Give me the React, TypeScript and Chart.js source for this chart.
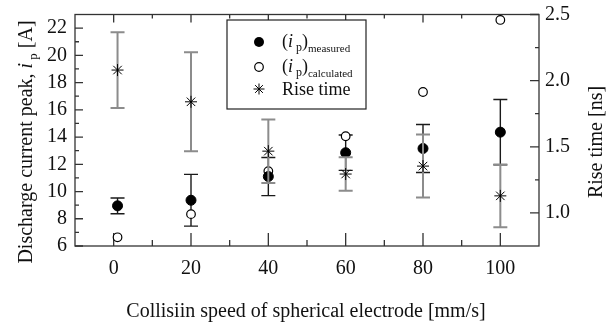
import React, { useEffect, useRef } from "react";
import { Chart, registerables } from "chart.js";
Chart.register(...registerables);

const speeds = [1, 20, 40, 60, 80, 100];
const measuredPeak = [8.95, 9.36, 11.1, 12.85, 13.16, 14.36];
const measuredErr = [0.58, 1.9, 1.4, 1.3, 1.76, 2.4];
const calculatedPeak = [6.64, 8.34, 11.5, 14.06, 17.31, 22.6];
const riseTime = [2.08, 1.84, 1.467, 1.294, 1.354, 1.129];
const riseErr = [0.286, 0.374, 0.24, 0.127, 0.238, 0.238];

const xTicks = [0, 20, 40, 60, 80, 100];
const xMinorTicks = [10, 30, 50, 70, 90];
const yTicks = [6, 8, 10, 12, 14, 16, 18, 20, 22];
const yMinorTicks = [7, 9, 11, 13, 15, 17, 19, 21];
const y2Ticks = [1.0, 1.5, 2.0, 2.5];
const y2MinorTicks = [1.25, 1.75, 2.25];

const FONT = '"Liberation Serif", "Times New Roman", serif';
const INK = "#111";
const GRAY = "#8c8c8c";

type Seg = { text: string; size: number; italic?: boolean; dy?: number };

function fontOf(s: Seg) {
  return `${s.italic ? "italic " : ""}${s.size}px ${FONT}`;
}

function drawRich(ctx: CanvasRenderingContext2D, segs: Seg[], x: number, y: number, align: "left" | "center") {
  let total = 0;
  segs.forEach((s) => {
    ctx.font = fontOf(s);
    total += ctx.measureText(s.text).width;
  });
  let cx = align === "center" ? x - total / 2 : x;
  ctx.textAlign = "left";
  ctx.textBaseline = "alphabetic";
  segs.forEach((s) => {
    ctx.font = fontOf(s);
    ctx.fillText(s.text, cx, y + (s.dy || 0));
    cx += ctx.measureText(s.text).width;
  });
}

function drawStar(ctx: CanvasRenderingContext2D, x: number, y: number, r: number) {
  ctx.beginPath();
  for (let k = 0; k < 4; k++) {
    const a = (k * Math.PI) / 4;
    ctx.moveTo(x - r * Math.cos(a), y - r * Math.sin(a));
    ctx.lineTo(x + r * Math.cos(a), y + r * Math.sin(a));
  }
  ctx.stroke();
}

function errorBars(chart: any, vals: number[], errs: number[], axis: string, color: string, width: number) {
  const ctx: CanvasRenderingContext2D = chart.ctx;
  const xs = chart.scales.x;
  const ys = chart.scales[axis];
  ctx.save();
  ctx.strokeStyle = color;
  ctx.lineWidth = width;
  const cap = 7;
  speeds.forEach((sp, i) => {
    const px = xs.getPixelForValue(sp);
    const top = ys.getPixelForValue(vals[i] + errs[i]);
    const bot = ys.getPixelForValue(vals[i] - errs[i]);
    ctx.beginPath();
    ctx.moveTo(px, top);
    ctx.lineTo(px, bot);
    ctx.moveTo(px - cap, top);
    ctx.lineTo(px + cap, top);
    ctx.moveTo(px - cap, bot);
    ctx.lineTo(px + cap, bot);
    ctx.stroke();
  });
  ctx.restore();
}

const decorPlugin = {
  id: "decor",
  beforeDatasetsDraw(chart: any) {
    const ctx: CanvasRenderingContext2D = chart.ctx;
    const { left, right, top, bottom } = chart.chartArea;
    const xs = chart.scales.x;
    const ys = chart.scales.y;
    const y2 = chart.scales.y2;
    ctx.save();
    ctx.strokeStyle = "#333";
    ctx.lineWidth = 1.3;
    ctx.strokeRect(left, top, right - left, bottom - top);
    ctx.beginPath();
    const vt = (vals: number[], len: number, bottomLen: number) => {
      vals.forEach((v) => {
        const px = xs.getPixelForValue(v);
        ctx.moveTo(px, bottom);
        ctx.lineTo(px, bottom - bottomLen);
        ctx.moveTo(px, top);
        ctx.lineTo(px, top + len);
      });
    };
    vt(xTicks, 8, 13);
    vt(xMinorTicks, 4, 6);
    yTicks.forEach((v) => {
      const py = ys.getPixelForValue(v);
      ctx.moveTo(left, py);
      ctx.lineTo(left + 8, py);
    });
    yMinorTicks.forEach((v) => {
      const py = ys.getPixelForValue(v);
      ctx.moveTo(left, py);
      ctx.lineTo(left + 4, py);
    });
    y2Ticks.forEach((v) => {
      const py = y2.getPixelForValue(v);
      ctx.moveTo(right, py);
      ctx.lineTo(right - 9, py);
    });
    y2MinorTicks.forEach((v) => {
      const py = y2.getPixelForValue(v);
      ctx.moveTo(right, py);
      ctx.lineTo(right - 4, py);
    });
    ctx.stroke();
    ctx.restore();
    errorBars(chart, measuredPeak, measuredErr, "y", "#1a1a1a", 1.4);
  },
  afterDatasetDraw(chart: any, args: any) {
    if (args.index === 1) {
      errorBars(chart, riseTime, riseErr, "y2", GRAY, 2);
    }
  },
  afterDraw(chart: any) {
    const ctx: CanvasRenderingContext2D = chart.ctx;
    const { left, right } = chart.chartArea;
    ctx.save();
    ctx.fillStyle = INK;
    // x title
    drawRich(ctx, [{ text: "Collisiin speed of spherical electrode [mm/s]", size: 20 }], (left + right) / 2 - 1, 317, "center");
    // left title
    ctx.save();
    ctx.translate(32, 142);
    ctx.rotate(-Math.PI / 2);
    drawRich(
      ctx,
      [
        { text: "Discharge current peak, ", size: 20 },
        { text: "i", size: 20, italic: true },
        { text: " p", size: 13, dy: 5 },
        { text: " [A]", size: 20 },
      ],
      0,
      0,
      "center"
    );
    ctx.restore();
    // right title
    ctx.save();
    ctx.translate(602, 142);
    ctx.rotate(-Math.PI / 2);
    drawRich(ctx, [{ text: "Rise time [ns]", size: 20 }], 0, 0, "center");
    ctx.restore();

    // legend
    const bx = 227, by = 20, bw = 139, bh = 89;
    ctx.fillStyle = "#fff";
    ctx.fillRect(bx, by, bw, bh);
    ctx.strokeStyle = "#222";
    ctx.lineWidth = 1.2;
    ctx.strokeRect(bx, by, bw, bh);
    const mx = 259;
    ctx.fillStyle = "#000";
    ctx.beginPath();
    ctx.arc(mx, 42, 5, 0, Math.PI * 2);
    ctx.fill();
    ctx.beginPath();
    ctx.arc(mx, 67, 4.3, 0, Math.PI * 2);
    ctx.fillStyle = "#fff";
    ctx.fill();
    ctx.strokeStyle = "#000";
    ctx.lineWidth = 1.2;
    ctx.stroke();
    ctx.lineWidth = 1;
    drawStar(ctx, mx, 89, 5.5);
    ctx.fillStyle = INK;
    const tx = 282;
    drawRich(
      ctx,
      [
        { text: "(", size: 18 },
        { text: "i", size: 18, italic: true },
        { text: " p", size: 12, dy: 4 },
        { text: ")", size: 18 },
        { text: "measured", size: 11, dy: 5 },
      ],
      tx,
      47,
      "left"
    );
    drawRich(
      ctx,
      [
        { text: "(", size: 18 },
        { text: "i", size: 18, italic: true },
        { text: " p", size: 12, dy: 4 },
        { text: ")", size: 18 },
        { text: "calculated", size: 11, dy: 5 },
      ],
      tx,
      72,
      "left"
    );
    drawRich(ctx, [{ text: "Rise time", size: 18 }], tx, 95, "left");
    ctx.restore();
  },
};

export default function App() {
  const ref = useRef<HTMLCanvasElement | null>(null);
  useEffect(() => {
    document.body.style.margin = "0";
    const canvas = ref.current;
    if (!canvas) return;
    const tickFont = { family: FONT, size: 20 };
    const chart = new Chart(canvas, {
      type: "scatter",
      data: {
        datasets: [
          {
            label: "Rise time",
            data: speeds.map((s, i) => ({ x: s, y: riseTime[i] })),
            yAxisID: "y2",
            pointStyle: "star",
            pointRadius: 6,
            borderColor: "#000",
            backgroundColor: "#000",
            borderWidth: 1,
          },
          {
            label: "measured",
            data: speeds.map((s, i) => ({ x: s, y: measuredPeak[i] })),
            yAxisID: "y",
            pointStyle: "circle",
            pointRadius: 5,
            borderColor: "#000",
            backgroundColor: "#000",
            borderWidth: 1,
          },
          {
            label: "calculated",
            data: speeds.map((s, i) => ({ x: s, y: calculatedPeak[i] })),
            yAxisID: "y",
            pointStyle: "circle",
            pointRadius: 4.3,
            borderColor: "#000",
            backgroundColor: "#fff",
            borderWidth: 1.2,
          },
        ],
      },
      options: {
        responsive: false,
        animation: false,
        clip: false as any,
        layout: { padding: { left: 0, right: 0, top: 14.5, bottom: 0 } },
        plugins: { legend: { display: false }, tooltip: { enabled: false } },
        scales: {
          x: {
            type: "linear",
            min: -10,
            max: 110,
            grid: { display: false, drawTicks: false, tickLength: 0 },
            border: { display: false },
            afterBuildTicks: (s: any) => {
              s.ticks = xTicks.map((v) => ({ value: v }));
            },
            afterFit: (s: any) => {
              s.height = 83;
              s.paddingLeft = 0;
              s.paddingRight = 0;
            },
            ticks: { font: tickFont, color: INK, padding: 11, maxRotation: 0, autoSkip: false },
          },
          y: {
            type: "linear",
            position: "left",
            min: 6,
            max: 23,
            grid: { display: false, drawTicks: false, tickLength: 0 },
            border: { display: false },
            afterBuildTicks: (s: any) => {
              s.ticks = yTicks.map((v) => ({ value: v }));
            },
            afterFit: (s: any) => {
              s.width = 75;
              s.paddingTop = 0;
              s.paddingBottom = 0;
            },
            ticks: { font: tickFont, color: INK, padding: 8, autoSkip: false },
          },
          y2: {
            type: "linear",
            position: "right",
            min: 0.75,
            max: 2.5,
            grid: { display: false, drawTicks: false, tickLength: 0 },
            border: { display: false },
            afterBuildTicks: (s: any) => {
              s.ticks = y2Ticks.map((v) => ({ value: v }));
            },
            afterFit: (s: any) => {
              s.width = 68;
              s.paddingTop = 0;
              s.paddingBottom = 0;
            },
            ticks: {
              font: tickFont,
              color: INK,
              padding: 6,
              autoSkip: false,
              callback: (v: any) => Number(v).toFixed(1),
            },
          },
        },
      },
      plugins: [decorPlugin],
    });
    return () => chart.destroy();
  }, []);
  return (
    <div style={{ width: 607, height: 329, background: "#fff" }}>
      <canvas ref={ref} width={607} height={329} style={{ display: "block" }} />
    </div>
  );
}
